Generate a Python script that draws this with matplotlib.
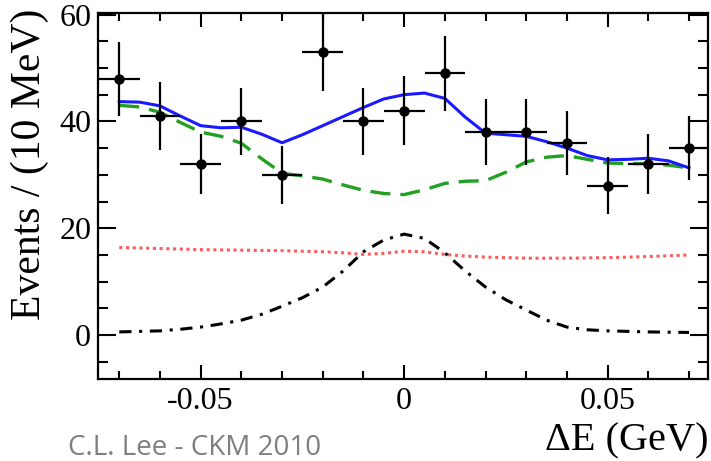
import numpy as np
import matplotlib
matplotlib.use("Agg")
import matplotlib.pyplot as plt
from matplotlib.ticker import MultipleLocator

# binned data, 10 MeV bins
de_bins = [-0.07, -0.06, -0.05, -0.04, -0.03, -0.02, -0.01, 0.0,
           0.01, 0.02, 0.03, 0.04, 0.05, 0.06, 0.07]
events = [48, 41, 32, 40, 30, 53, 40, 42, 49, 38, 38, 36, 28, 32, 35]

# fit projections sampled every 5 MeV
de_fit = [-0.070, -0.065, -0.060, -0.055, -0.050, -0.045, -0.040, -0.035,
          -0.030, -0.025, -0.020, -0.015, -0.010, -0.005, 0.000, 0.005,
          0.010, 0.015, 0.020, 0.025, 0.030, 0.035, 0.040, 0.045,
          0.050, 0.055, 0.060, 0.065, 0.070]
total = [43.7, 43.6, 42.9, 41.0, 39.2, 38.8, 38.9, 37.6,
         36.0, 37.5, 39.2, 40.9, 42.6, 44.2, 45.0, 45.3,
         44.3, 40.8, 37.8, 37.5, 37.2, 36.2, 35.0, 33.6,
         32.8, 32.9, 33.1, 32.6, 31.3]
background = [43.0, 42.7, 41.7, 39.8, 38.0, 37.2, 35.9, 33.0,
              30.3, 29.8, 29.2, 28.1, 27.1, 26.5, 26.3, 27.2,
              28.4, 28.8, 28.9, 30.5, 32.4, 33.3, 33.6, 32.9,
              32.2, 32.1, 32.1, 31.8, 31.3]
bbbar = [16.4, 16.3, 16.2, 16.1, 16.0, 15.95, 15.9, 15.85,
         15.8, 15.7, 15.6, 15.4, 15.1, 15.3, 15.7, 15.6,
         15.1, 14.8, 14.6, 14.5, 14.4, 14.4, 14.4, 14.45,
         14.5, 14.6, 14.7, 14.85, 15.0]
signal = [0.6, 0.7, 0.8, 1.1, 1.5, 2.1, 2.8, 3.9,
          5.4, 7.0, 9.0, 12.0, 15.6, 17.8, 18.9, 18.1,
          15.4, 12.0, 9.0, 6.6, 4.7, 2.8, 1.5, 1.0,
          0.8, 0.7, 0.6, 0.55, 0.5]

plt.rcParams["font.family"] = ["Liberation Serif", "DejaVu Serif"]

fig = plt.figure(figsize=(7.11, 4.61), dpi=100)
ax = fig.add_axes([0.138, 0.178, 0.858, 0.794])

ax.plot(de_fit, bbbar, color="#ff5a5a", lw=2.2, ls=(0, (1, 1.2)))
ax.plot(de_fit, signal, color="black", lw=2.2, ls=(0, (4, 2.5, 1, 2.5)))
ax.plot(de_fit, background, color="#22a022", lw=2.4, ls=(0, (6, 3)))
ax.plot(de_fit, total, color="#1a1aff", lw=2.2)

errs = np.sqrt(events)
ax.errorbar(de_bins, events, yerr=errs, xerr=0.005, fmt="o", color="black",
            ms=6.5, lw=1.6, capsize=0)

ax.set_xlim(-0.0752, 0.0747)
ax.set_ylim(-8.2, 60.3)
ax.xaxis.set_minor_locator(MultipleLocator(0.01))
ax.yaxis.set_major_locator(MultipleLocator(20))
ax.yaxis.set_minor_locator(MultipleLocator(5))
ax.set_xticks([-0.05, 0, 0.05])
ax.set_xticklabels(["-0.05", "0", "0.05"])
ax.tick_params(which="both", direction="in", top=True, right=True,
               labelsize=23, width=1.5)
ax.tick_params(axis="x", which="major", length=10, pad=6)
ax.tick_params(axis="y", which="major", length=13, pad=5)
ax.tick_params(axis="x", which="minor", length=6)
ax.tick_params(axis="y", which="minor", length=7)
for s in ax.spines.values():
    s.set_linewidth(1.6)

ax.set_ylabel("Events / (10 MeV)", fontsize=30)
ax.yaxis.set_label_coords(-0.080, 0.585)
fig.text(0.996, 0.022, "ΔE (GeV)", fontsize=29, ha="right", va="baseline")
fig.text(0.095, 0.013, "C.L. Lee - CKM 2010", fontsize=20, color="#7f7f7f",
         family=["Open Sans", "DejaVu Sans"], ha="left", va="baseline")

fig.savefig("out.png", dpi=100)
